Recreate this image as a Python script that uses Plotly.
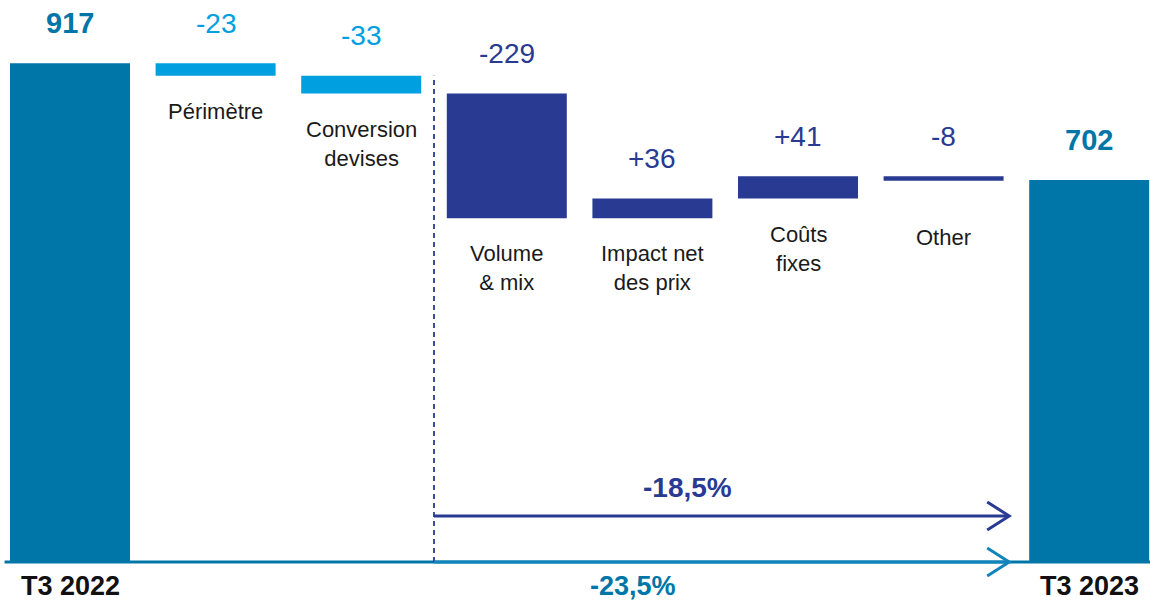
import plotly.graph_objects as go

# ---- data ----
categories = ["T3 2022", "Périmètre", "Conversion<br>devises", "Volume<br>& mix",
              "Impact net<br>des prix", "Coûts<br>fixes", "Other", "T3 2023"]
values = [917, -23, -33, -229, 36, 41, -8, 702]
value_labels = ["917", "-23", "-33", "-229", "+36", "+41", "-8", "702"]
kinds = ["total", "delta", "delta", "delta", "delta", "delta", "delta", "total"]
groups = ["total", "scope", "scope", "ops", "ops", "ops", "ops", "total"]
growth_ops = "-18,5%"
growth_total = "-23,5%"

# ---- styles ----
TEAL = "#0076A8"
LIGHT = "#009FE0"
NAVY = "#283A92"
group_color = {"total": TEAL, "scope": LIGHT, "ops": NAVY}
FONT = "Liberation Sans, Arial, sans-serif"

# waterfall geometry from the data
bases, heights, tops, bottoms = [], [], [], []
running = 0
for v, k in zip(values, kinds):
    if k == "total":
        b, h = 0, v
        running = v
    else:
        new = running + v
        b, h = min(running, new), abs(v)
        running = new
    bases.append(b)
    heights.append(h)
    tops.append(b + h)
    bottoms.append(b)

xs = list(range(len(categories)))
colors = [group_color[g] for g in groups]

fig = go.Figure()
fig.add_trace(go.Bar(
    x=xs, y=heights, base=bases, width=0.824,
    marker=dict(color=colors, line=dict(width=0)),
    hoverinfo="skip", showlegend=False,
))

# axis ranges (pixel mapping)
xr = [-70 / 145.6, (1150 - 70) / 145.6]
yr = [-(602 - 562) / 0.544, 562 / 0.544]
ux = (xr[1] - xr[0]) / 1150  # data units per px
uy = (yr[1] - yr[0]) / 602

annotations = []
# value labels
for i, (lab, g, k) in enumerate(zip(value_labels, groups, kinds)):
    annotations.append(dict(
        x=i, y=tops[i], xref="x", yref="y", text=lab, showarrow=False,
        yanchor="middle", yshift=40,
        font=dict(family=FONT, size=29 if k == "total" else 28,
                  color=group_color[g],
                  weight="bold" if k == "total" else "normal"),
    ))
# category labels
extra_shift = {6: -21}
for i, (cat, k) in enumerate(zip(categories, kinds)):
    if k == "total":
        annotations.append(dict(
            x=i, y=0, xref="x", yref="y", text=f"<b>{cat}</b>", showarrow=False,
            yanchor="middle", yshift=-24,
            font=dict(family=FONT, size=27, color="#111111"),
        ))
    else:
        annotations.append(dict(
            x=i, y=bottoms[i], xref="x", yref="y", text=cat, showarrow=False,
            yanchor="top", yshift=-21 + extra_shift.get(i, 0),
            font=dict(family=FONT, size=22, color="#1a1a1a"),
        ))

# growth labels
x_start = 2.5
x_tip = 7 - 0.412 - 20 * ux
y_ops = 46 * uy
annotations.append(dict(
    x=4.24, y=y_ops, xref="x", yref="y", text=f"<b>{growth_ops}</b>", showarrow=False,
    yanchor="middle", yshift=29, font=dict(family=FONT, size=28, color=NAVY)))
annotations.append(dict(
    x=3.87, y=0, xref="x", yref="y", text=f"<b>{growth_total}</b>", showarrow=False,
    yanchor="middle", yshift=-24, font=dict(family=FONT, size=27, color=TEAL)))

shapes = []
# baseline
shapes.append(dict(type="line", xref="paper", yref="y", x0=0.004, x1=1, y0=0, y1=0,
                   line=dict(color=TEAL, width=3)))
# dashed separator (up to the level after the first scope step)
shapes.append(dict(type="line", xref="x", yref="y", x0=x_start, x1=x_start,
                   y0=0, y1=bottoms[1],
                   line=dict(color=NAVY, width=1.8, dash="5px,4px")))


def arrow(y, color):
    shapes.append(dict(type="line", xref="x", yref="y", x0=x_start, x1=x_tip,
                       y0=y, y1=y, line=dict(color=color, width=3)))
    path = (f"M {x_tip - 22 * ux},{y + 14 * uy} L {x_tip},{y} "
            f"L {x_tip - 22 * ux},{y - 14 * uy}")
    shapes.append(dict(type="path", xref="x", yref="y", path=path,
                       line=dict(color=color, width=3)))


arrow(y_ops, NAVY)
arrow(0, "#1184BC")

fig.update_layout(
    width=1150, height=602,
    margin=dict(l=0, r=0, t=0, b=0),
    paper_bgcolor="white", plot_bgcolor="white",
    xaxis=dict(range=xr, visible=False, fixedrange=True),
    yaxis=dict(range=yr, visible=False, fixedrange=True),
    annotations=annotations, shapes=shapes,
    font=dict(family=FONT),
)
fig.write_html(
    "out.html",
    config={"displayModeBar": False},
    post_script="document.body.style.margin='0';document.body.style.overflow='hidden';",
)
